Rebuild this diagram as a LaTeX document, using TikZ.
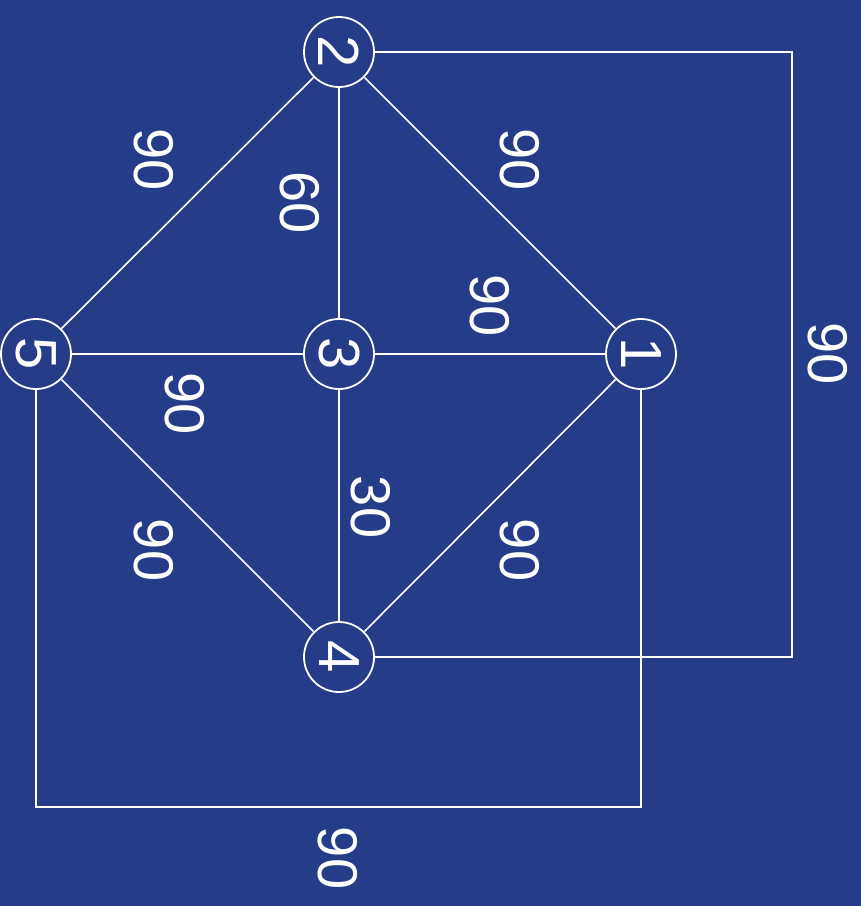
\documentclass[tikz,border=0pt]{standalone}
\usepackage{fontspec}
\setmainfont{Liberation Sans}
\definecolor{bg}{HTML}{253D88}
\newcommand{\rt}[1]{\rotatebox{-90}{#1}}
\begin{document}
\begin{tikzpicture}[x=1pt,y=-1pt,
  vert/.style={circle,draw=white,line width=1.8pt,minimum size=70pt,inner sep=0pt,text=white,font=\fontsize{58}{58}\selectfont},
  lbl/.style={text=white,font=\fontsize{56}{56}\selectfont,inner sep=0pt},
  edge/.style={draw=white,line width=1.6pt}]
\fill[bg] (0,0) rectangle (861,906);
\useasboundingbox (0,0) rectangle (861,906);
\node[vert] (n2) at (339,52) {\rt{2}};
\node[vert] (n5) at (36,354) {\rt{5}};
\node[vert] (n3) at (339,354) {\rt{3}};
\node[vert] (n1) at (641,354) {\rt{1}};
\node[vert] (n4) at (339,657) {\rt{4}};
\coordinate (c2r) at (792,52);
\coordinate (c4r) at (792,657);
\coordinate (c5b) at (36,807);
\coordinate (c1b) at (641,807);
\draw[edge] (n2) -- (n5);
\draw[edge] (n2) -- (n3);
\draw[edge] (n2) -- (n1);
\draw[edge] (n5) -- (n3);
\draw[edge] (n3) -- (n1);
\draw[edge] (n5) -- (n4);
\draw[edge] (n3) -- (n4);
\draw[edge] (n1) -- (n4);
\draw[edge] (n2.east) -- (c2r) -- (c4r) -- (n4.east);
\draw[edge] (n5.south) -- (c5b) -- (c1b) -- (n1.south);
\node[lbl] (l25) at (154,160) {\rt{90}};
\node[lbl] (l23) at (300,203) {\rt{60}};
\node[lbl] (l21) at (520,160) {\rt{90}};
\node[lbl] (l31) at (490,306) {\rt{90}};
\node[lbl] (l24) at (828,354) {\rt{90}};
\node[lbl] (l53) at (185,404) {\rt{90}};
\node[lbl] (l34) at (371,507) {\rt{30}};
\node[lbl] (l54) at (154,550) {\rt{90}};
\node[lbl] (l14) at (520,550) {\rt{90}};
\node[lbl] (l51) at (338,858) {\rt{90}};
\end{tikzpicture}
\end{document}
